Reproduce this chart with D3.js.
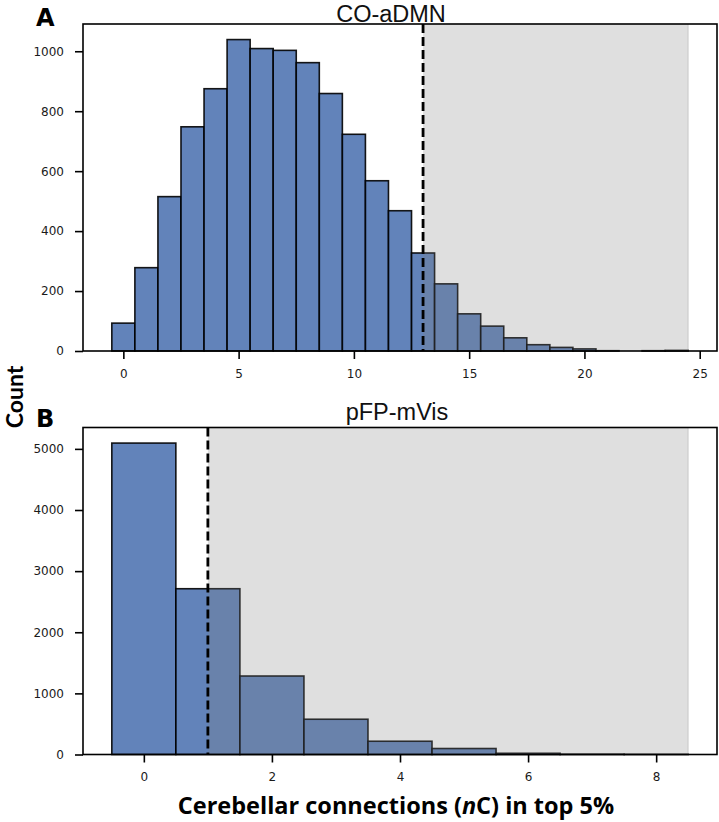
<!DOCTYPE html>
<html>
<head>
<meta charset="utf-8">
<script src="https://cdn.jsdelivr.net/npm/d3@7"></script>
<style>
  html, body { margin: 0; padding: 0; background: #fff; }
  svg { display: block; }
</style>
</head>
<body>
<div id="chart"></div>
<script>
// ---------- Data ----------
const binsA = [0,1,2,3,4,5,6,7,8,9,10,11,12,13,14,15,16,17,18,19,20,21,22,23,24];
const countsA = [93,278,515,748,875,1039,1009,1003,962,859,723,568,468,327,224,124,83,44,21,12,7,1,0,1,2];
const titleA = "CO-aDMN";
const thresholdA = 13;
const shadeEndA = 24.5;
const xTicksA = [0,5,10,15,20,25];
const yTicksA = [0,200,400,600,800,1000];

const binsB = [0,1,2,3,4,5,6,7,8];
const countsB = [5095,2712,1284,577,217,98,20,5,2];
const titleB = "pFP-mVis";
const thresholdB = 1;
const shadeEndB = 8.5;
const xTicksB = [0,2,4,6,8];
const yTicksB = [0,1000,2000,3000,4000,5000];

const panelLabels = ["A","B"];
const yLabel = "Count";

// ---------- Layout ----------
const W = 719, H = 822;
const svg = d3.select("#chart").append("svg").attr("width", W).attr("height", H);

const plotLeft = 83, plotRight = 717;
const panels = [
  { bins: binsA, counts: countsA, title: titleA, thr: thresholdA, shadeEnd: shadeEndA,
    xTicks: xTicksA, yTicks: yTicksA, top: 24, bottom: 351, label: panelLabels[0],
    titleX: 391, titleY: 21.5, labelY: 26 },
  { bins: binsB, counts: countsB, title: titleB, thr: thresholdB, shadeEnd: shadeEndB,
    xTicks: xTicksB, yTicks: yTicksB, top: 427.5, bottom: 754.5, label: panelLabels[1],
    titleX: 397, titleY: 420, labelY: 427 }
];

const barColor = "#4c72b0";
const titleFont = "'Liberation Sans', Arial, sans-serif";

panels.forEach(p => {
  const lo = p.bins[0] - 0.5, hi = p.bins[p.bins.length - 1] + 0.5;
  const span = hi - lo;
  const x = d3.scaleLinear().domain([lo - 0.05 * span, hi + 0.05 * span]).range([plotLeft, plotRight]);
  const y = d3.scaleLinear().domain([0, d3.max(p.counts) * 1.05]).range([p.bottom, p.top]);

  const g = svg.append("g");

  // bars
  g.selectAll("rect.bar").data(p.bins).enter().append("rect")
    .attr("class", "bar")
    .attr("x", d => x(d - 0.5))
    .attr("width", d => x(d + 0.5) - x(d - 0.5))
    .attr("y", (d, i) => y(p.counts[i]))
    .attr("height", (d, i) => y(0) - y(p.counts[i]))
    .attr("fill", barColor)
    .attr("fill-opacity", 0.88)
    .attr("stroke", "#000")
    .attr("stroke-opacity", 0.9)
    .attr("stroke-width", 1.6);

  // shaded region
  g.append("rect")
    .attr("x", x(p.thr))
    .attr("width", x(p.shadeEnd) - x(p.thr))
    .attr("y", p.top)
    .attr("height", p.bottom - p.top)
    .attr("fill", "#808080")
    .attr("fill-opacity", 0.25);
  g.append("line")
    .attr("x1", x(p.shadeEnd)).attr("x2", x(p.shadeEnd))
    .attr("y1", p.top).attr("y2", p.bottom)
    .attr("stroke", "#808080").attr("stroke-opacity", 0.25).attr("stroke-width", 1.2);

  // dashed threshold
  g.append("line")
    .attr("x1", x(p.thr)).attr("x2", x(p.thr))
    .attr("y1", p.top).attr("y2", p.bottom)
    .attr("stroke", "#000")
    .attr("stroke-width", 2.8)
    .attr("stroke-dasharray", "9,4");

  // frame
  g.append("rect")
    .attr("x", plotLeft).attr("y", p.top)
    .attr("width", plotRight - plotLeft).attr("height", p.bottom - p.top)
    .attr("fill", "none").attr("stroke", "#000").attr("stroke-width", 1.6);

  // axes
  const xAxis = g.append("g").attr("transform", `translate(0,${p.bottom})`)
    .call(d3.axisBottom(x).tickValues(p.xTicks).tickSize(8).tickSizeOuter(0).tickPadding(10).tickFormat(d3.format("d")));
  const yAxis = g.append("g").attr("transform", `translate(${plotLeft},0)`)
    .call(d3.axisLeft(y).tickValues(p.yTicks).tickSize(8).tickSizeOuter(0).tickPadding(11).tickFormat(d3.format("d")));
  [xAxis, yAxis].forEach(a => {
    a.select(".domain").remove();
    a.selectAll(".tick line").attr("stroke", "#000").attr("stroke-width", 1.6);
    a.selectAll(".tick text").attr("fill", "#1a1a1a")
      .style("font-family", "'DejaVu Sans', sans-serif").style("font-size", "12px");
  });

  // title
  g.append("text")
    .attr("x", p.titleX).attr("y", p.titleY)
    .attr("text-anchor", "middle")
    .style("font-family", titleFont)
    .style("font-size", "23.5px")
    .attr("fill", "#111")
    .text(p.title);

  // panel label
  g.append("text")
    .attr("x", 36).attr("y", p.labelY)
    .style("font-family", "'DejaVu Sans', sans-serif")
    .style("font-weight", "bold")
    .style("font-size", "24px")
    .attr("fill", "#000")
    .text(p.label);
});

// y label
svg.append("text")
  .attr("transform", "translate(22.5,397) rotate(-90)")
  .attr("text-anchor", "middle")
  .style("font-family", "Lato, 'Open Sans', sans-serif")
  .style("font-weight", "bold")
  .style("font-size", "23px")
  .attr("fill", "#000")
  .text(yLabel);

// x label
const xl = svg.append("text")
  .attr("x", 396).attr("y", 814)
  .attr("text-anchor", "middle")
  .style("font-family", "'Open Sans', sans-serif")
  .style("font-weight", "bold")
  .style("font-size", "23.5px")
  .attr("fill", "#000");
xl.append("tspan").text("Cerebellar connections (");
xl.append("tspan").style("font-style", "italic").text("n");
xl.append("tspan").text("C) in top 5%");
</script>
</body>
</html>
